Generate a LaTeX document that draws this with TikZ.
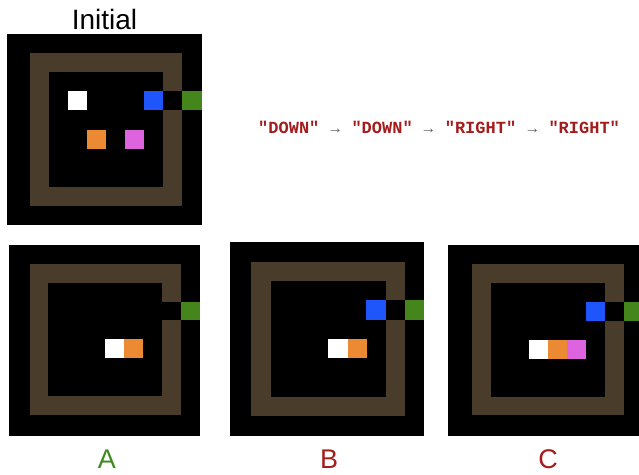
\documentclass[tikz,border=0pt]{standalone}
\usepackage{fontspec}
\setmainfont{Liberation Sans}
\newfontfamily\codefont{Liberation Mono}[BoldFont={Liberation Mono Bold}]
\definecolor{wallbrown}{HTML}{4A3C2B}
\definecolor{agentblue}{HTML}{1F56FB}
\definecolor{goalgreen}{HTML}{44861C}
\definecolor{boxorange}{HTML}{EC8A33}
\definecolor{boxpink}{HTML}{DE63DE}
\definecolor{codered}{HTML}{A31D1D}
\definecolor{labelgreen}{HTML}{3F8A1E}
\definecolor{arrowgray}{HTML}{5A5A5A}
\tikzset{
  codeword/.style={anchor=base west,inner sep=0pt,text=codered,font=\codefont\bfseries\fontsize{17}{18}\selectfont},
  arrowword/.style={anchor=base,inner sep=0pt,text=arrowgray,font=\fontsize{15.5}{17}\selectfont},
  panellabel/.style={anchor=base,inner sep=0pt,font=\fontsize{28}{32}\selectfont},
  letterlabel/.style={anchor=base,inner sep=0pt,font=\fontsize{27}{30}\selectfont}
}
% Rectangle given by left, top, right, bottom in pixel coordinates
\newcommand{\cellrect}[5]{\fill[#1] (#2,#3) rectangle (#4,#5);}
\begin{document}
\begin{tikzpicture}[x=1pt,y=-1pt]
\useasboundingbox (0,0) rectangle (639,474);
\clip (0,0) rectangle (639,474);

% Initial state
\cellrect{black}{7}{34.4}{201.7}{225.3}
\cellrect{wallbrown}{29.7}{53}{182.4}{205.7}
\cellrect{black}{49}{72}{163.3}{186.5}
\cellrect{black}{163}{91.3}{182.6}{110.3}
\cellrect{goalgreen}{182.4}{91.3}{201.7}{110.3}
\cellrect{agentblue}{144.2}{91.3}{163.3}{110.3}
\cellrect{white}{67.7}{91.3}{87}{110.3}
\cellrect{boxorange}{87}{129.7}{106}{148.8}
\cellrect{boxpink}{125}{129.7}{144.2}{148.8}

% Panel A
\cellrect{black}{9}{245}{200}{436}
\cellrect{wallbrown}{29.7}{264}{180.8}{415}
\cellrect{black}{48.4}{282.7}{161.7}{396.3}
\cellrect{black}{161.5}{301.7}{181}{320.3}
\cellrect{goalgreen}{180.8}{301.7}{200}{320.3}
\cellrect{white}{105}{339.2}{124}{358.3}
\cellrect{boxorange}{124}{339.2}{143}{358.3}

% Panel B
\cellrect{black}{230}{242.4}{424.3}{436}
\cellrect{wallbrown}{251.4}{262.3}{405}{415.7}
\cellrect{black}{270.7}{281.4}{385.7}{396.7}
\cellrect{black}{385.5}{300.4}{405.2}{319.7}
\cellrect{goalgreen}{405}{300.4}{424.3}{319.7}
\cellrect{agentblue}{366.4}{300.4}{385.7}{319.7}
\cellrect{white}{328.3}{339}{347.7}{358.4}
\cellrect{boxorange}{347.7}{339}{366.8}{358.4}

% Panel C
\cellrect{black}{448}{245}{639}{436}
\cellrect{wallbrown}{472.4}{264.3}{623.7}{415.3}
\cellrect{black}{491.4}{283}{604.7}{396.7}
\cellrect{black}{604.5}{302}{624}{321}
\cellrect{goalgreen}{623.7}{302}{639}{321}
\cellrect{agentblue}{585.8}{302}{604.7}{321}
\cellrect{white}{528.7}{340}{548}{358.7}
\cellrect{boxorange}{548}{340}{567}{358.7}
\cellrect{boxpink}{567}{340}{585.8}{358.7}

% Action sequence
\node[codeword] (down1) at (258,133.2) {"DOWN"};
\node[arrowword] (arr1) at (335,133.2) {→};
\node[codeword] (down2) at (351.3,133.2) {"DOWN"};
\node[arrowword] (arr2) at (428.3,133.2) {→};
\node[codeword] (right1) at (444.6,133.2) {"RIGHT"};
\node[arrowword] (arr3) at (532.3,133.2) {→};
\node[codeword] (right2) at (548.3,133.2) {"RIGHT"};

% Titles and panel letters
\node[panellabel,text=black] (title) at (104.5,29.5) {Initial};
\node[letterlabel,text=labelgreen] (labA) at (107,468) {A};
\node[letterlabel,text=codered] (labB) at (329,468) {B};
\node[letterlabel,text=codered] (labC) at (548,468) {C};
\end{tikzpicture}
\end{document}
